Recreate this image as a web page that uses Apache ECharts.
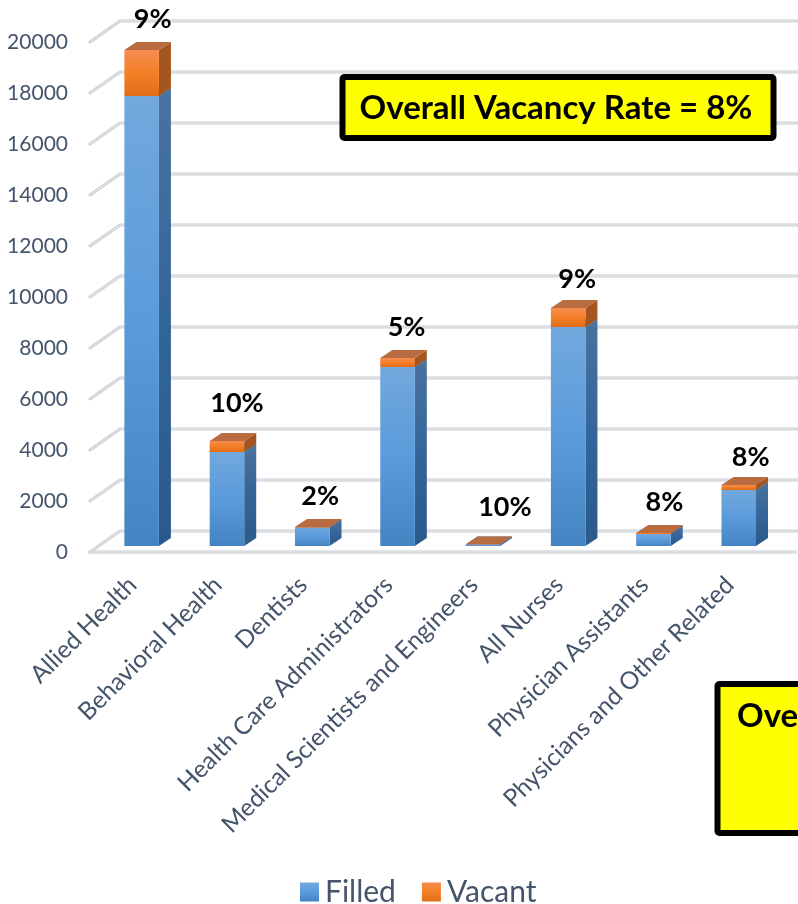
<!DOCTYPE html>
<html>
<head>
<meta charset="utf-8">
<style>html,body{margin:0;padding:0;background:#fff}#main{width:798px;height:904px}</style>
<script src="https://cdn.jsdelivr.net/npm/echarts@6/dist/echarts.min.js"></script>
</head>
<body>
<div id="main"></div>
<script>
var categories = ['Allied Health', 'Behavioral Health', 'Dentists', 'Health Care Administrators',
    'Medical Scientists and Engineers', 'All Nurses', 'Physician Assistants', 'Physicians and Other Related'];
var filled = [17650, 3690, 730, 7020, 55, 8590, 470, 2200];
var vacant = [1800, 430, 15, 350, 6, 740, 40, 190];
var vacancyLabels = ['9%', '10%', '2%', '5%', '10%', '9%', '8%', '8%'];
var yTicks = [0, 2000, 4000, 6000, 8000, 10000, 12000, 14000, 16000, 18000, 20000];
var overallNote = 'Overall Vacancy Rate = 8%';
var cutOffNote = 'Ove';

// the labels were placed by hand in the original, so each one has its own nudge
var labelNudge = [[11, -23], [10, -30], [8, -23], [9, -23], [22, -29], [9, -21], [11, -23], [12, -20]];

var wallDx = 30, wallDy = -21;       // depth of the side wall
var barDx = 9, barDy = -6;           // bars stand a little behind the front of the floor
var sideDx = 12, sideDy = -8;        // depth of one bar
var textColor = '#44546a';

var myChart = echarts.init(document.getElementById('main'));

function vGrad(a, b, c) {
    return new echarts.graphic.LinearGradient(0, 0, 0, 1, [
        { offset: 0, color: a }, { offset: 0.5, color: b }, { offset: 1, color: c }
    ]);
}

// one 3D bar segment: side, top, front
function renderBlock(frontColor, sideColor, topColor) {
    return function (params, api) {
        var i = api.value(0);
        var low = api.coord([i, api.value(1)]);
        var high = api.coord([i, api.value(2)]);
        var w = api.size([1, 0])[0] * 0.405;
        var x0 = low[0] - w / 2 + barDx;
        var x1 = x0 + w;
        var y0 = low[1] + barDy;
        var y1 = high[1] + barDy;
        return {
            type: 'group',
            children: [{
                type: 'polygon',
                shape: { points: [[x1, y1], [x1 + sideDx, y1 + sideDy], [x1 + sideDx, y0 + sideDy], [x1, y0]] },
                style: { fill: sideColor }
            }, {
                type: 'polygon',
                shape: { points: [[x0, y1], [x0 + sideDx, y1 + sideDy], [x1 + sideDx, y1 + sideDy], [x1, y1]] },
                style: { fill: topColor }
            }, {
                type: 'rect',
                shape: { x: x0, y: y1, width: w, height: y0 - y1 },
                style: { fill: frontColor }
            }]
        };
    };
}

function renderWall(params, api) {
    var y = api.coord([0, api.value(1)])[1];
    var left = params.coordSys.x;
    var right = params.coordSys.x + params.coordSys.width + 35;
    var pts = [[left, y], [left + wallDx, y + wallDy], [right, y + wallDy]];
    var kids = [];
    var lines = [pts];
    if (api.value(1) === 0) {
        lines.push([[left, y], [right - 12, y]]);
    }
    lines.forEach(function (p) {
        kids.push({ type: 'polyline', shape: { points: p }, style: { fill: null, stroke: '#c8ccd1', lineWidth: 3, lineCap: 'round' } });
        kids.push({ type: 'polyline', shape: { points: p }, style: { fill: null, stroke: '#eef0f2', lineWidth: 1, lineCap: 'round' } });
    });
    return { type: 'group', children: kids };
}

function renderLabel(params, api) {
    var i = api.value(0);
    var p = api.coord([i, api.value(1)]);
    return {
        type: 'text',
        x: p[0] + barDx + labelNudge[i][0],
        y: p[1] + barDy + sideDy + labelNudge[i][1],
        style: {
            text: vacancyLabels[i],
            fontFamily: 'Lato',
            fontWeight: 'bold',
            fontSize: 27,
            fill: '#000',
            align: 'center',
            verticalAlign: 'middle'
        }
    };
}

var blueFront = vGrad('#72a8dd', '#5a9bdb', '#4484c2');
var orangeFront = vGrad('#f58c52', '#f47f26', '#e06c17');

var option = {
    backgroundColor: '#fff',
    animation: false,
    textStyle: { fontFamily: 'Lato' },
    legend: {
        data: ['Filled', 'Vacant'],
        left: 295,
        top: 872,
        itemWidth: 19,
        itemHeight: 19,
        itemGap: 26,
        icon: 'rect',
        textStyle: { fontFamily: 'Lato', fontSize: 30, color: textColor, padding: [0, 0, 0, 1] }
    },
    grid: { left: 90, right: 25.6, top: 42, bottom: 352 },
    xAxis: {
        type: 'category',
        data: categories,
        axisLine: { show: false },
        axisTick: { show: false },
        axisLabel: { rotate: 45, interval: 0, margin: 29, fontFamily: 'Lato', fontSize: 24.5, color: textColor }
    },
    yAxis: {
        type: 'value',
        min: 0,
        max: 20000,
        interval: 2000,
        axisLine: { show: false },
        axisTick: { show: false },
        splitLine: { show: false },
        axisLabel: {
            margin: 22,
            fontFamily: 'Lato',
            fontSize: 21,
            color: textColor,
            padding: [0, 0, 4, 0],
            formatter: function (v) { return String(v); }
        }
    },
    series: [{
        type: 'custom',
        name: 'wall',
        silent: true,
        z: 1,
        renderItem: renderWall,
        data: yTicks.map(function (t) { return [0, t]; }),
        encode: { x: 0, y: 1 }
    }, {
        type: 'custom',
        name: 'Filled',
        z: 2,
        itemStyle: { color: blueFront },
        renderItem: renderBlock(blueFront, vGrad('#4a739e', '#34659a', '#2a5a8a'), '#3f6f9f'),
        data: filled.map(function (v, i) { return [i, 0, v]; }),
        encode: { x: 0, y: [1, 2] }
    }, {
        type: 'custom',
        name: 'Vacant',
        z: 3,
        itemStyle: { color: orangeFront },
        renderItem: renderBlock(orangeFront, '#a5561f', '#b96c40'),
        data: vacant.map(function (v, i) { return [i, filled[i], filled[i] + v]; }),
        encode: { x: 0, y: [1, 2] }
    }, {
        type: 'custom',
        name: 'labels',
        silent: true,
        z: 4,
        renderItem: renderLabel,
        data: vacant.map(function (v, i) { return [i, filled[i] + v]; }),
        encode: { x: 0, y: 1 }
    }],
    graphic: [{
        type: 'rect',
        z: 10,
        shape: { x: 342.5, y: 77, width: 431, height: 61, r: 2 },
        style: { fill: '#ffff00', stroke: '#000', lineWidth: 6 }
    }, {
        type: 'text',
        z: 11,
        x: 556,
        y: 108,
        style: { text: overallNote, fontFamily: 'Lato', fontWeight: 'bold', fontSize: 33, fill: '#000', align: 'center', verticalAlign: 'middle' }
    }, {
        type: 'rect',
        z: 10,
        shape: { x: 717.5, y: 684, width: 100, height: 149, r: 2 },
        style: { fill: '#ffff00', stroke: '#000', lineWidth: 6 }
    }, {
        type: 'text',
        z: 11,
        x: 737,
        y: 716,
        style: { text: cutOffNote, fontFamily: 'Lato', fontWeight: 'bold', fontSize: 33, fill: '#000', align: 'left', verticalAlign: 'middle' }
    }]
};
myChart.setOption(option);
</script>
</body>
</html>
